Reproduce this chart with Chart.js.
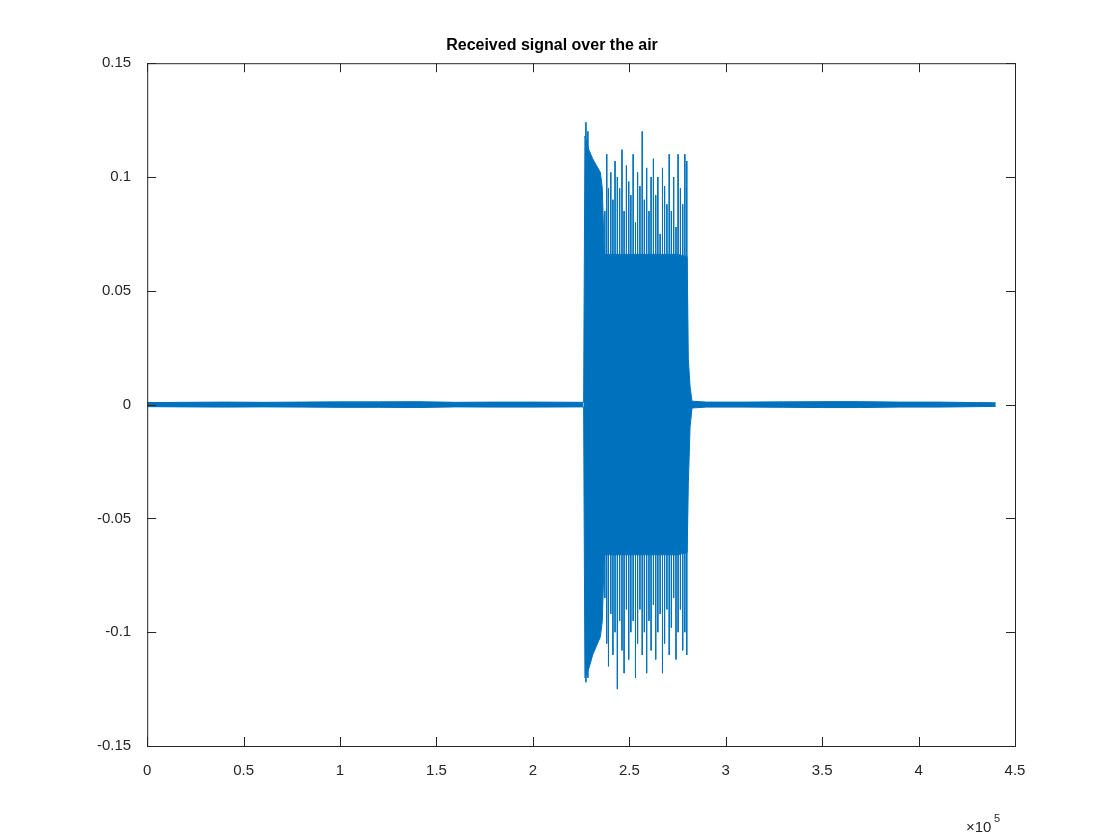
<!DOCTYPE html>
<html><head><script src="https://cdn.jsdelivr.net/npm/chart.js@4"></script>
<style>body{margin:0;background:#fff}#w{width:1120px;height:840px}</style></head>
<body><div id="w"><canvas id="c"></canvas></div>
<script>
// noise floor band (x in samples, amplitude)
const noiseX = [0,20000,40000,60000,80000,100000,120000,140000,160000,180000,200000,226300];
const noiseA = [0.0009,0.0010,0.0011,0.0010,0.0011,0.0012,0.0012,0.0013,0.0010,0.0011,0.0011,0.0010];
const noise2X = [282500,290000,310000,330000,350000,370000,390000,410000,430000,440000];
const noise2A = [0.0015,0.0011,0.0011,0.0012,0.0013,0.0013,0.0011,0.0011,0.0009,0.0008];
// burst envelope
const bandX  = [226300,227000,229000,231000,233000,235000,236000,237000,245000,260000,275000,280000,280600,281500,282500];
const bandHi = [0.001,0.118,0.112,0.108,0.105,0.102,0.095,0.066,0.066,0.066,0.066,0.065,0.02,0.008,0.0015];
const bandLo = [-0.001,-0.12,-0.116,-0.11,-0.106,-0.102,-0.095,-0.066,-0.066,-0.066,-0.066,-0.065,-0.035,-0.010,-0.0015];
// spikes
const spikeX  = [227500,228500,237300,238300,239200,240400,241500,242600,243800,245000,246200,247300,248500,249700,250800,252000,253200,254300,255500,256700,257800,259000,260200,261300,262500,263700,264800,266000,267200,268300,269500,270700,271800,273000,274200,275300,276500,277700,278800,279800];
const spikeHi = [0.124,0.120,0.085,0.110,0.095,0.102,0.090,0.107,0.100,0.095,0.112,0.085,0.105,0.098,0.092,0.110,0.080,0.102,0.096,0.120,0.090,0.104,0.085,0.100,0.108,0.092,0.100,0.075,0.104,0.096,0.088,0.110,0.085,0.100,0.078,0.110,0.095,0.088,0.110,0.107];
const spikeLo = [-0.122,-0.120,-0.085,-0.105,-0.115,-0.092,-0.110,-0.100,-0.125,-0.095,-0.108,-0.118,-0.090,-0.112,-0.100,-0.095,-0.120,-0.105,-0.090,-0.110,-0.100,-0.118,-0.095,-0.108,-0.088,-0.112,-0.100,-0.092,-0.118,-0.105,-0.090,-0.110,-0.098,-0.085,-0.112,-0.100,-0.090,-0.108,-0.100,-0.110];
const xTicks = [0,50000,100000,150000,200000,250000,300000,350000,400000,450000];
const yTicks = [-0.15,-0.1,-0.05,0,0.05,0.1,0.15];

const C = '#0072BD';
const pts = (xs, ys) => xs.map((x,i)=>({x, y: ys[i]}));
const neg = a => a.map(v=>-v);
const spikes = [];
spikeX.forEach((x,i)=>{spikes.push({x,y:spikeHi[i]},{x,y:spikeLo[i]},{x,y:null});});

const frame = {id:'frame', afterDraw(ch){const a=ch.chartArea,g=ch.ctx,xs=ch.scales.x,ys=ch.scales.y;g.save();g.strokeStyle='#262626';g.lineWidth=1;g.strokeRect(a.left+0.5,a.top+0.5,a.width,a.height);
 g.beginPath();
 xTicks.forEach(v=>{const p=Math.round(xs.getPixelForValue(v))+0.5;g.moveTo(p,a.bottom);g.lineTo(p,a.bottom-9);g.moveTo(p,a.top);g.lineTo(p,a.top+9);});
 yTicks.forEach(v=>{const p=Math.round(ys.getPixelForValue(v))+0.5;g.moveTo(a.left,p);g.lineTo(a.left+9,p);g.moveTo(a.right,p);g.lineTo(a.right-9,p);});
 g.stroke();
 g.fillStyle='#262626';g.font='15px "Liberation Sans", Arial';g.textAlign='left';g.fillText('×10',966,832);g.font='11px "Liberation Sans", Arial';g.fillText('5',994,822);g.restore();}};

new Chart(document.getElementById('c'), {
  type:'line',
  data:{datasets:[
    {data:pts(noiseX,noiseA),borderColor:C,borderWidth:1,pointRadius:0,fill:'+1',backgroundColor:C,tension:0},
    {data:pts(noiseX,neg(noiseA)),borderColor:C,borderWidth:1,pointRadius:0,tension:0},
    {data:pts(noise2X,noise2A),borderColor:C,borderWidth:1,pointRadius:0,fill:'+1',backgroundColor:C,tension:0},
    {data:pts(noise2X,neg(noise2A)),borderColor:C,borderWidth:1,pointRadius:0,tension:0},
    {data:pts(bandX,bandHi),borderColor:C,borderWidth:1,pointRadius:0,fill:'+1',backgroundColor:C,tension:0},
    {data:pts(bandX,bandLo),borderColor:C,borderWidth:1,pointRadius:0,tension:0},
    {data:spikes,borderColor:C,borderWidth:1,pointRadius:0,spanGaps:false,tension:0}
  ]},
  options:{responsive:true,maintainAspectRatio:false,animation:false,
    layout:{padding:{left:89,right:105,top:6,bottom:52}},
    plugins:{legend:{display:false},tooltip:{enabled:false},
      title:{display:true,text:'Received signal over the air',color:'#000',font:{family:'Liberation Sans',size:16,weight:'bold'},padding:{top:30,bottom:8}}},
    scales:{
      x:{type:'linear',min:0,max:450000,afterBuildTicks(s){s.ticks=xTicks.map(v=>({value:v}));},
        grid:{display:false},border:{display:false},
        ticks:{color:'#262626',font:{family:'Liberation Sans',size:15},padding:8,callback:v=>String(v/100000)}},
      y:{min:-0.15,max:0.15,afterBuildTicks(s){s.ticks=yTicks.map(v=>({value:v}));},
        grid:{display:false},border:{display:false},
        ticks:{color:'#262626',font:{family:'Liberation Sans',size:15},padding:8,callback:v=>String(Math.round(v*100)/100)}}
    }},
  plugins:[frame]
});
</script></body></html>
